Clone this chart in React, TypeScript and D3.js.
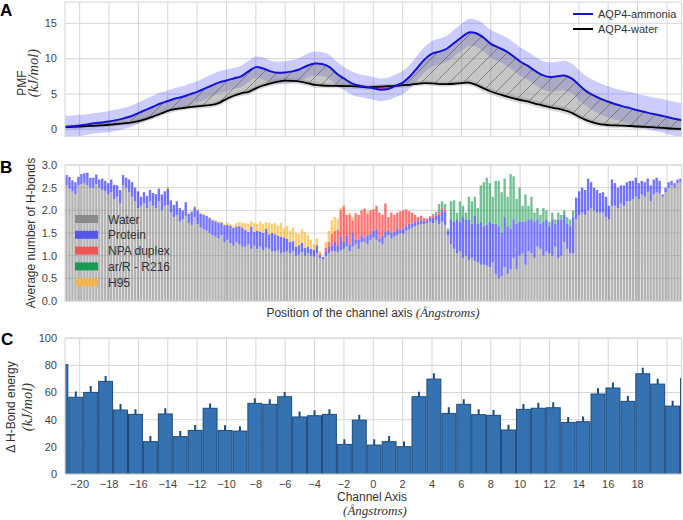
import React from 'react';
import * as d3 from 'd3';

const W = 683, H = 520;
const FONT = '"Liberation Sans", Arial, "DejaVu Sans", sans-serif';
const MATH = '"Liberation Serif", "DejaVu Serif", serif';

// ---------- Panel A: PMF ----------
const pmfPos = d3.range(-21, 21.001, 0.5);
const ammonia = [
  0.35, 0.45, 0.55, 0.7, 0.85, 0.97, 1.1, 1.3, 1.55, 1.85,
  2.3, 2.75, 3.2, 3.65, 4.0, 4.35, 4.6, 4.95, 5.3, 5.75,
  6.2, 6.65, 6.9, 7.2, 7.5, 8.2, 8.8, 8.6, 8.2, 8.0,
  8.05, 8.2, 8.5, 9.0, 9.3, 9.25, 8.85, 7.9, 7.2, 6.55,
  6.2, 6.0, 5.8, 5.6, 5.7, 6.15, 6.6, 7.5, 8.7, 9.9,
  10.7, 11.0, 11.4, 12.2, 13.0, 13.7, 13.6, 13.0, 12.1, 11.6,
  11.1, 10.4, 9.6, 9.0, 8.3, 7.7, 7.4, 7.5, 7.6, 7.2,
  6.3, 5.4, 4.8, 4.3, 3.9, 3.55, 3.25, 3.0, 2.7, 2.45,
  2.2, 2.0, 1.75, 1.5, 1.3
];
const ammoniaErr = [
  1.55, 1.5, 1.5, 1.45, 1.45, 1.45, 1.5, 1.5, 1.5, 1.5,
  1.5, 1.55, 1.55, 1.55, 1.5, 1.5, 1.5, 1.5, 1.5, 1.55,
  1.55, 1.55, 1.55, 1.5, 1.5, 1.5, 1.5, 1.55, 1.55, 1.55,
  1.6, 1.6, 1.65, 1.7, 1.7, 1.7, 1.7, 1.7, 1.65, 1.65,
  1.6, 1.6, 1.6, 1.6, 1.6, 1.6, 1.65, 1.7, 1.75, 1.8,
  1.8, 1.85, 1.85, 1.9, 1.9, 1.9, 1.9, 1.95, 1.95, 1.95,
  2.0, 2.0, 2.0, 2.0, 2.0, 2.0, 2.05, 2.05, 2.1, 2.1,
  2.1, 2.1, 2.15, 2.2, 2.2, 2.2, 2.25, 2.3, 2.3, 2.3,
  2.35, 2.35, 2.4, 2.4, 2.4
];
const water = [
  0.3, 0.35, 0.4, 0.45, 0.5, 0.55, 0.65, 0.75, 0.85, 0.95,
  1.15, 1.45, 1.8, 2.2, 2.6, 2.85, 3.0, 3.15, 3.25, 3.35,
  3.45, 3.75, 4.3, 4.75, 5.1, 5.3, 5.8, 6.2, 6.5, 6.75,
  6.9, 6.85, 6.75, 6.55, 6.3, 6.2, 6.15, 6.15, 6.12, 6.1,
  6.05, 5.95, 6.0, 6.05, 6.1, 6.15, 6.25, 6.3, 6.45, 6.55,
  6.5, 6.4, 6.4, 6.45, 6.55, 6.6, 6.3, 5.8, 5.35, 5.0,
  4.7, 4.4, 4.15, 3.95, 3.65, 3.4, 3.15, 2.95, 2.7, 2.35,
  1.8, 1.3, 0.94, 0.7, 0.6, 0.55, 0.52, 0.47, 0.4, 0.35,
  0.3, 0.25, 0.15, 0.08, 0.02
];
const waterErr = [
  0.3, 0.3, 0.3, 0.3, 0.3, 0.3, 0.3, 0.3, 0.3, 0.3,
  0.35, 0.35, 0.35, 0.35, 0.35, 0.35, 0.35, 0.35, 0.35, 0.35,
  0.35, 0.4, 0.4, 0.4, 0.4, 0.4, 0.4, 0.4, 0.4, 0.4,
  0.4, 0.4, 0.4, 0.4, 0.4, 0.35, 0.35, 0.35, 0.35, 0.35,
  0.35, 0.35, 0.35, 0.35, 0.35, 0.35, 0.35, 0.35, 0.35, 0.35,
  0.35, 0.35, 0.35, 0.35, 0.35, 0.4, 0.4, 0.45, 0.45, 0.45,
  0.45, 0.45, 0.45, 0.45, 0.45, 0.45, 0.45, 0.45, 0.45, 0.45,
  0.4, 0.4, 0.4, 0.35, 0.35, 0.35, 0.3, 0.3, 0.3, 0.3,
  0.3, 0.3, 0.3, 0.3, 0.3
];
const pmfTicks = [0, 5, 10, 15];

// ---------- Panel B: H-bonds ----------
const hbWater = [
  2.55, 2.48, 2.42, 2.35, 2.55, 2.58, 2.6, 2.55, 2.5, 2.5,
  2.58, 2.5, 2.45, 2.42, 2.35, 2.4, 2.25, 2.3, 2.15, 2.55,
  2.5, 2.4, 2.3, 2.2, 2.05, 2.1, 2.15, 2.05, 2.2, 2.1,
  2.05, 2.2, 2.0, 2.1, 2.12, 1.95, 1.85, 1.9, 1.75, 1.8,
  1.88, 1.72, 1.68, 1.85, 1.7, 1.62, 1.58, 1.55, 1.5, 1.45,
  1.42, 1.38, 1.45, 1.3, 1.35, 1.28, 1.22, 1.3, 1.25, 1.2,
  1.2, 1.25, 1.15, 1.22, 1.15, 1.2, 1.12, 1.18, 1.15, 1.1,
  1.1, 1.12, 1.05, 1.08, 1.1, 1.05, 1.1, 1.0, 1.02, 1.08,
  1.0, 1.05, 1.0, 0.98, 1.05, 0.95, 0.92, 1.0, 1.05, 1.1,
  1.1, 1.08, 1.12, 1.15, 1.2, 1.1, 1.2, 1.25, 1.15, 1.3,
  1.3, 1.25, 1.35, 1.4, 1.35, 1.3, 1.25, 1.4, 1.45, 1.38,
  1.42, 1.45, 1.5, 1.48, 1.55, 1.58, 1.62, 1.65, 1.68, 1.7,
  1.7, 1.72, 1.75, 1.72, 1.78, 1.7, 1.75, 1.68, 1.45, 1.25,
  1.15, 1.05, 1.1, 0.95, 1.0, 0.9, 0.95, 0.88, 0.85, 0.8,
  0.8, 0.78, 0.75, 0.85, 0.6, 0.5, 0.55, 0.75, 0.6, 0.7,
  0.95, 0.7, 1.0, 1.05, 0.8, 1.1, 1.05, 0.95, 1.2, 1.15,
  1.0, 1.1, 1.05, 1.0, 1.2, 0.95, 1.0, 1.3, 1.15, 1.05,
  1.05, 1.8, 1.9, 1.95, 1.9, 2.0, 2.05, 2.0, 1.95, 1.95,
  1.95, 1.85, 1.8, 2.1, 2.1, 2.05, 2.15, 2.1, 2.2, 2.2,
  2.25, 2.3, 2.25, 2.35, 2.3, 2.4, 2.2, 2.35, 2.4, 2.38,
  2.3, 2.4, 2.5, 2.55, 2.5, 2.6, 2.62
];
const hbProtein = [
  0.23, 0.26, 0.24, 0.27, 0.19, 0.22, 0.22, 0.28, 0.22, 0.22,
  0.21, 0.18, 0.25, 0.23, 0.25, 0.28, 0.31, 0.25, 0.3, 0.23,
  0.22, 0.28, 0.32, 0.3, 0.37, 0.2, 0.25, 0.27, 0.25, 0.28,
  0.31, 0.28, 0.35, 0.32, 0.36, 0.27, 0.27, 0.3, 0.3, 0.2,
  0.3, 0.2, 0.29, 0.22, 0.3, 0.3, 0.32, 0.33, 0.33, 0.33,
  0.34, 0.35, 0.28, 0.37, 0.33, 0.38, 0.39, 0.34, 0.4, 0.42,
  0.37, 0.27, 0.49, 0.3, 0.4, 0.33, 0.38, 0.41, 0.32, 0.4,
  0.37, 0.32, 0.37, 0.32, 0.27, 0.25, 0.22, 0.2, 0.21, 0.2,
  0.17, 0.15, 0.15, 0.15, 0.18, 0.05, 0.05, 0.08, 0.15, 0.13,
  0.2, 0.15, 0.3, 0.15, 0.25, 0.15, 0.3, 0.1, 0.2, 0.15,
  0.1, 0.2, 0.12, 0.15, 0.25, 0.08, 0.2, 0.12, 0.1, 0.12,
  0.1, 0.15, 0.08, 0.12, 0.1, 0.12, 0.08, 0.1, 0.08, 0.08,
  0.08, 0.05, 0.08, 0.12, 0.1, 0.2, 0.25, 0.3, 0.1, 0.55,
  0.6, 0.75, 0.65, 0.9, 0.8, 0.9, 0.75, 1.0, 0.85, 0.95,
  0.85, 0.9, 1.0, 0.85, 1.1, 1.15, 0.95, 1.1, 1.05, 0.9,
  0.85, 1.0, 0.75, 0.7, 0.95, 0.7, 0.75, 0.8, 0.6, 0.55,
  0.75, 0.7, 0.6, 0.8, 0.5, 0.85, 0.8, 0.6, 0.55, 0.6,
  0.8, 0.48, 0.52, 0.55, 0.55, 0.7, 0.57, 0.5, 0.5, 0.43,
  0.45, 0.45, 0.3, 0.58, 0.5, 0.45, 0.4, 0.45, 0.42, 0.45,
  0.4, 0.42, 0.35, 0.3, 0.32, 0.3, 0.35, 0.33, 0.32, 0.27,
  0.05, 0.1, 0.12, 0.1, 0.1, 0.08, 0.08
];
const hbNpaFrom = 80;
const hbNpa = [
  0, 0, 0, 0, 0, 0.05, 0, 0.1, 0.1, 0.25,
  0.25, 0.34, 0.58, 0.78, 0.45, 0.65, 0.27, 0.58, 0.55, 0.55,
  0.63, 0.48, 0.53, 0.47, 0.5, 0.57, 0.45, 0.63, 0.3, 0.45,
  0.38, 0.35, 0.4, 0.4, 0.37, 0.28, 0.25, 0.15, 0.09, 0.1,
  0.05, 0.05, 0.04, 0.04, 0.04, 0.06, 0.05, 0.04, 0, 0
];
const hbArRFrom = 120;
const hbArR = [
  0, 0, 0, 0.04, 0.05, 0.18, 0.15, 0.12, 0.05, 0.4,
  0.47, 0.15, 0.45, 0.25, 0.15, 0.5, 0.5, 0.42, 0.35, 0.8,
  0.97, 1.04, 0.85, 0.6, 0.95, 1.0, 0.9, 0.85, 0.65, 1.2,
  0.95, 0.55, 0.75, 0.35, 0.6, 0.3, 0.5, 0.2, 0.25, 0.2,
  0.3, 0.2, 0.1, 0.15, 0.1, 0.15, 0.1, 0.1, 0.15, 0.15,
  0.15
];
const hbH95From = 30;
const hbH95 = [
  0, 0, 0, 0, 0.04, 0, 0, 0, 0, 0,
  0, 0.03, 0.03, 0.03, 0.02, 0.03, 0.02, 0, 0.02, 0.02,
  0.02, 0.03, 0.02, 0.03, 0.05, 0.04, 0.05, 0.08, 0.1, 0.1,
  0.15, 0.18, 0.12, 0.2, 0.15, 0.22, 0.2, 0.15, 0.25, 0.2,
  0.25, 0.22, 0.3, 0.2, 0.28, 0.25, 0.3, 0.3, 0.25, 0.3,
  0.35, 0.25, 0.2, 0.12, 0.15, 0.05, 0, 0.12, 0.25, 0.3,
  0.3, 0.25, 0.05, 0.04, 0, 0.05, 0.08, 0.02, 0, 0,
  0.02, 0.05
];
const hbKeys = ['water', 'protein', 'npa', 'arR', 'h95'];
const hbLabels = ['Water', 'Protein', 'NPA duplex', 'ar/R - R216', 'H95'];
const hbColors = ['#808080', '#0000ff', '#ff0000', '#00903c', '#ffa500'];
const hbLegendColors = ['#8a8a8a', '#5555e8', '#f25555', '#1b9a55', '#f2b550'];
const hbTicks = [0, 0.5, 1.0, 1.5, 2.0, 2.5, 3.0];

// ---------- Panel C: delta H-bond energy ----------
const cPos = d3.range(-21, 22);
const cEnergy = [
  80.5, 56.5, 60.1, 68.2, 47.1, 43.9, 23.8, 44.2, 27.5, 32.1,
  48.4, 32.0, 31.6, 52.0, 51.3, 56.9, 42.0, 42.9, 43.9, 21.8,
  39.7, 21.3, 23.8, 20.1, 56.9, 69.9, 44.6, 51.3, 43.7, 43.2,
  32.4, 47.6, 48.4, 48.8, 38.0, 38.5, 58.9, 63.3, 53.5, 73.8,
  66.2, 50.0, 70.4
];
const cErr = [
  0, 4.2, 4.7, 3.9, 4.4, 3.7, 4.2, 4.2, 4.1, 3.9,
  3.6, 3.9, 3.6, 3.7, 3.7, 3.5, 4.1, 4.1, 3.7, 3.7,
  4.0, 4.2, 4.2, 3.9, 3.7, 4.2, 4.5, 3.7, 4.0, 4.0,
  3.9, 4.0, 4.0, 4.0, 4.0, 3.9, 4.2, 4.0, 4.0, 4.5,
  4.0, 4.0, 0
];
const cTicksY = [0, 20, 40, 60, 80, 100];
const cTicksX = [-20, -18, -16, -14, -12, -10, -8, -6, -4, -2, 0, 2, 4, 6, 8, 10, 12, 14, 16, 18];
const gridXVals = d3.range(-20, 21, 2);

const GRID = '#d6d6d6';
const TICK = '#444';
const LAB = '#333';

export default function App() {
  const L = 65, R = 681.6;
  const x = d3.scaleLinear().domain([-21, 21]).range([L, R]);

  // Panel A
  const aTop = 2.1, aBot = 136.4;
  const yA = d3.scaleLinear().domain([-1, 18]).range([aBot, aTop]);
  const idx = pmfPos.map((_, i) => i);
  const curve = d3.curveCatmullRom;
  const ammBand = d3.area<number>().x(i => x(pmfPos[i])).y0(i => yA(ammonia[i] - ammoniaErr[i])).y1(i => yA(ammonia[i] + ammoniaErr[i])).curve(curve)(idx);
  const watBand = d3.area<number>().x(i => x(pmfPos[i])).y0(i => yA(water[i] - waterErr[i])).y1(i => yA(water[i] + waterErr[i])).curve(curve)(idx);
  const between = d3.area<number>().x(i => x(pmfPos[i])).y0(i => yA(water[i])).y1(i => yA(Math.max(ammonia[i], water[i]))).curve(curve)(idx);
  const below = d3.area<number>().x(i => x(pmfPos[i])).y0(i => yA(Math.min(ammonia[i], water[i]))).y1(i => yA(water[i])).curve(curve)(idx);
  const ammLine = d3.line<number>().x(i => x(pmfPos[i])).y(i => yA(ammonia[i])).curve(curve)(idx);
  const watLine = d3.line<number>().x(i => x(pmfPos[i])).y(i => yA(water[i])).curve(curve)(idx);

  // Panel B
  const bTop = 165, bBot = 301;
  const yB = d3.scaleLinear().domain([0, 3]).range([bBot, bTop]);
  const nB = hbWater.length;
  const xb = d3.scaleBand<number>().domain(d3.range(nB)).range([65, 682]).paddingInner(0);
  const sparse = (arr: number[], from: number, i: number) => (i >= from && i < from + arr.length ? arr[i - from] : 0);
  const rows = d3.range(nB).map(i => ({
    water: hbWater[i],
    protein: hbProtein[i],
    npa: sparse(hbNpa, hbNpaFrom, i),
    arR: sparse(hbArR, hbArRFrom, i),
    h95: sparse(hbH95, hbH95From, i),
  }));
  const stacked = d3.stack<any>().keys(hbKeys)(rows);

  // Panel C
  const cTop = 338.2, cBot = 474;
  const yC = d3.scaleLinear().domain([0, 100]).range([cBot, cTop]);
  const xc = d3.scaleBand<number>().domain(cPos).range([53.4, 695]).paddingInner(0);
  const fmt = d3.format('d');

  const gridX = (top: number, bot: number) => gridXVals.map(v => (
    <line key={'gx' + v} x1={x(v)} x2={x(v)} y1={top} y2={bot} stroke={GRID} strokeWidth={1} />
  ));
  const frame = (top: number, bot: number) => (
    <rect x={L} y={top} width={R - L} height={bot - top} fill="none" stroke={GRID} strokeWidth={1} />
  );

  return (
    <svg width={W} height={H} style={{ position: 'absolute', left: 0, top: 0, background: '#fff' }} fontFamily={FONT}>
      <defs>
        <clipPath id="clipA"><rect x={L} y={aTop} width={R - L} height={aBot - aTop} /></clipPath>
        <clipPath id="clipB"><rect x={L} y={bTop} width={R - L} height={bBot - bTop} /></clipPath>
        <clipPath id="clipC"><rect x={L} y={cTop - 10} width={R - L} height={cBot - cTop + 10} /></clipPath>
        <pattern id="hatch" width="14" height="14" patternUnits="userSpaceOnUse">
          <path d="M0,14 L14,0 M-3.5,3.5 L3.5,-3.5 M10.5,17.5 L17.5,10.5" stroke="#555" strokeWidth="0.6" />
        </pattern>
      </defs>
      <rect x={0} y={0} width={W} height={H} fill="#fff" />

      {/* ---------- Panel A ---------- */}
      <g>
        {gridX(aTop, aBot)}
        {pmfTicks.map(v => <line key={'ga' + v} x1={L} x2={R} y1={yA(v)} y2={yA(v)} stroke={GRID} />)}
        <g clipPath="url(#clipA)">
          <path d={ammBand || ''} fill="#0000ff" fillOpacity={0.2} />
          <path d={watBand || ''} fill="#808080" fillOpacity={0.3} />
          <path d={between || ''} fill="#808080" fillOpacity={0.45} />
          <path d={between || ''} fill="url(#hatch)" />
          <path d={below || ''} fill="#ff2a6a" fillOpacity={0.8} />
          <path d={watLine || ''} fill="none" stroke="#000" strokeWidth={1.8} />
          <path d={ammLine || ''} fill="none" stroke="#1414d2" strokeWidth={2} />
        </g>
        {frame(aTop, aBot)}
        {pmfTicks.map(v => (
          <text key={'ta' + v} x={57} y={yA(v)} dy="0.35em" textAnchor="end" fontSize={11} fill={TICK}>{fmt(v)}</text>
        ))}
        <text transform="translate(26,83) rotate(-90)" textAnchor="middle" fontSize={12} fill={LAB}>PMF</text>
        <text transform="translate(38,73) rotate(-90)" textAnchor="middle" fontSize={14.5} fill={LAB} fontFamily={MATH} fontStyle="italic">(kJ/mol)</text>
        <text x={0} y={15.5} fontSize={17} fontWeight="bold" fill="#000">A</text>
        {/* legend */}
        <line x1={573} x2={593} y1={14} y2={14} stroke="#1414d2" strokeWidth={2} />
        <line x1={573} x2={593} y1={29} y2={29} stroke="#000" strokeWidth={2} />
        <text x={598} y={18} fontSize={11} fill={LAB}>AQP4-ammonia</text>
        <text x={598} y={33} fontSize={11} fill={LAB}>AQP4-water</text>
      </g>

      {/* ---------- Panel B ---------- */}
      <g>
        {gridX(bTop, bBot)}
        {hbTicks.map(v => <line key={'gb' + v} x1={L} x2={R} y1={yB(v)} y2={yB(v)} stroke={GRID} />)}
        <g clipPath="url(#clipB)">
          {stacked.map((series, k) => (
            <g key={series.key} fill={hbColors[k]} fillOpacity={k === 0 ? 0.6 : 0.55}>
              {series.map((d, i) => (
                d[1] - d[0] > 0 ? (
                  <rect key={i} x={(xb(i) as number) + 0.3} width={xb.bandwidth() - 0.6}
                    y={yB(d[1])} height={yB(d[0]) - yB(d[1])} />
                ) : null
              ))}
            </g>
          ))}
        </g>
        {frame(bTop, bBot)}
        {hbTicks.map(v => (
          <text key={'tb' + v} x={57} y={yB(v)} dy="0.35em" textAnchor="end" fontSize={11} fill={TICK}>{d3.format('.1f')(v)}</text>
        ))}
        <text transform="translate(35,233) rotate(-90)" textAnchor="middle" fontSize={12} fill={LAB}>Average number of H-bonds</text>
        <text x={0} y={173.3} fontSize={17} fontWeight="bold" fill="#000">B</text>
        <text x={373} y={316.5} textAnchor="middle" fontSize={12} fill={LAB}>
          Position of the channel axis <tspan fontFamily={MATH} fontStyle="italic" fontSize={13}>(Ångstroms)</tspan>
        </text>
        {hbLabels.map((lab, k) => (
          <g key={lab}>
            <rect x={75} y={215 + k * 15.8} width={23} height={8} fill={hbLegendColors[k]} />
            <text x={108} y={223.5 + k * 15.8} fontSize={12} fill={LAB}>{lab}</text>
          </g>
        ))}
      </g>

      {/* ---------- Panel C ---------- */}
      <g>
        {gridX(cTop, cBot)}
        {cTicksY.map(v => <line key={'gc' + v} x1={L} x2={R} y1={yC(v)} y2={yC(v)} stroke={GRID} />)}
        <g clipPath="url(#clipC)">
          {cPos.map((p, i) => (
            <rect key={'cb' + p} x={(xc(p) as number) + 0.5} width={xc.bandwidth() - 1}
              y={yC(cEnergy[i])} height={yC(0) - yC(cEnergy[i])}
              fill="#3572b2" stroke="#1d4b7c" strokeWidth={1} />
          ))}
          {cPos.map((p, i) => cErr[i] > 0 ? (
            <line key={'ce' + p} x1={(xc(p) as number) + xc.bandwidth() / 2} x2={(xc(p) as number) + xc.bandwidth() / 2}
              y1={yC(cEnergy[i])} y2={yC(cEnergy[i] + cErr[i])} stroke="#1d4b7c" strokeWidth={2} />
          ) : null)}
        </g>
        {frame(cTop, cBot)}
        {cTicksY.map(v => (
          <text key={'tcy' + v} x={57} y={yC(v)} dy="0.35em" textAnchor="end" fontSize={11} fill={TICK}>{fmt(v)}</text>
        ))}
        {cTicksX.map(v => (
          <text key={'tcx' + v} x={x(v)} y={487.5} textAnchor="middle" fontSize={11} fill={TICK}>{fmt(v)}</text>
        ))}
        <text x={372} y={500.5} textAnchor="middle" fontSize={12} fill={LAB}>Channel Axis</text>
        <text x={375} y={515} textAnchor="middle" fontSize={13} fill={LAB} fontFamily={MATH} fontStyle="italic">(Ångstroms)</text>
        <text transform="translate(15,407) rotate(-90)" textAnchor="middle" fontSize={12} fill={LAB}>Δ H-Bond energy</text>
        <text transform="translate(32,407) rotate(-90)" textAnchor="middle" fontSize={14.5} fill={LAB} fontFamily={MATH} fontStyle="italic">(kJ/mol)</text>
        <text x={1} y={345} fontSize={17} fontWeight="bold" fill="#000">C</text>
      </g>
    </svg>
  );
}
